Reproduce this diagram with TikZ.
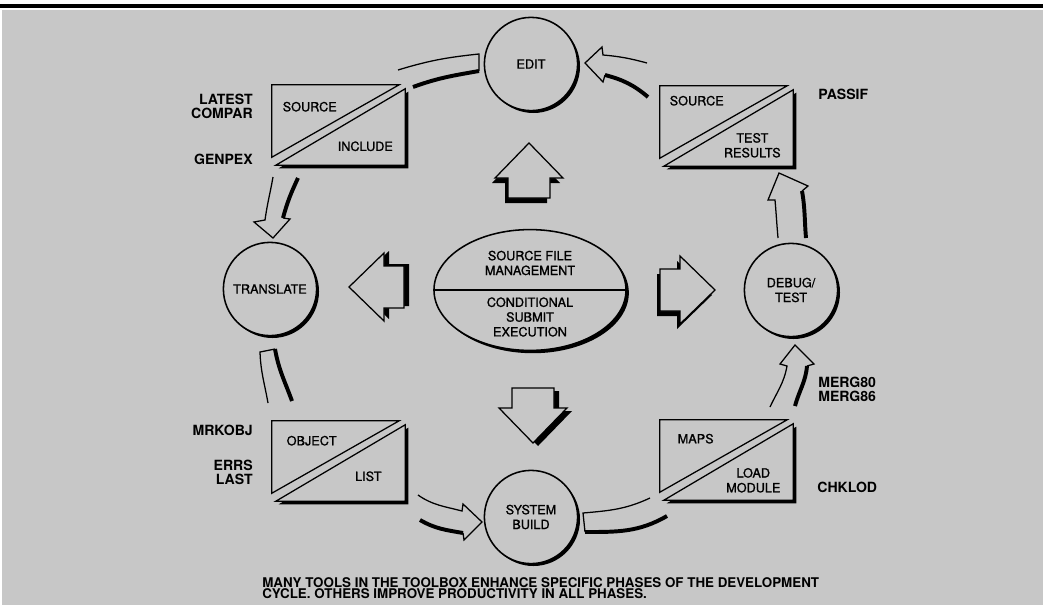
\documentclass[tikz,border=0pt]{standalone}
\usepackage{fontspec}
\setsansfont{TeX Gyre Heros}
\newfontfamily\medsans[FakeBold=1.2]{TeX Gyre Heros}
\usetikzlibrary{calc,shadows,shapes.geometric}
\definecolor{paper}{gray}{0.78}
% split file box drawn on the anchors of an empty node
\newcommand\splitbox[1]{%
  \fill[black] ($(#1.south west)+(7,3)$) -- ($(#1.north east)+(3,7)$) -- ($(#1.south east)+(3,3)$) -- cycle;
  \draw[rim, fill=paper] ($(#1.south west)+(4,0)$) -- ($(#1.north east)+(0,4)$) -- (#1.south east) -- cycle;
  \draw[rim, fill=paper] (#1.north west) -- ($(#1.north east)+(-6,0)$) -- ($(#1.south west)+(0,-8)$) -- cycle;}
% block arrow with its shadow: tip, angle, shadow shift
\newcommand\fatarrow[3]{%
  \pic[rotate=#2] at ($(#1)+(#3)$) {fat shade};
  \pic[rotate=#2] at (#1) {fat arrow};}
\begin{document}
\begin{tikzpicture}[x=0.025cm, y=-0.025cm,
rim/.style={line width=0.9pt, line join=miter},
heavy/.style={line width=2.8pt},
phase/.style={circle, draw, line width=1.1pt, fill=paper, minimum size=2.33cm, inner sep=0pt,
  align=center, font=\medsans\fontsize{9}{10.5}\selectfont,
  drop shadow={shadow xshift=1.7pt, shadow yshift=-1.7pt, fill=black, opacity=1}},
hub/.style={ellipse, draw, line width=1.1pt, fill=paper, minimum width=4.8cm, minimum height=3.02cm,
  inner sep=0pt, drop shadow={shadow xshift=2pt, shadow yshift=-2pt, fill=black, opacity=1}},
filebox/.style={rectangle, minimum width=3.325cm, minimum height=2cm, inner sep=0pt},
boxtext/.style={align=center, inner sep=0pt, font=\medsans\fontsize{9}{10.5}\selectfont},
tool/.style={inner sep=0pt, font=\sffamily\bfseries\fontsize{10}{10}\selectfont},
caption/.style={align=left, inner sep=0pt, font=\sffamily\bfseries\fontsize{9.5}{8}\selectfont},
fat arrow/.pic={\draw[rim, fill=paper] (0,0) -- (-35,34) -- (-35,21) -- (-55,21) -- (-55,-21) -- (-35,-21) -- (-35,-34) -- cycle;},
fat shade/.pic={\fill[black] (0,0) -- (-35,34) -- (-35,21) -- (-55,21) -- (-55,-21) -- (-35,-21) -- (-35,-34) -- cycle;}
]
\useasboundingbox (0,0) rectangle (1043,605);
\fill[white] (0,0) rectangle (1043,605);
\fill[black] (0,4) rectangle (1043,7.5);
\fill[paper] (2,10) rectangle (1043,605);

% phases of the cycle
\node[phase] (edit) at (531,64) {EDIT};
\node[phase] (translate) at (270,289) {TRANSLATE};
\node[phase] (debug) at (791,290) {DEBUG/\\TEST};
\node[phase] (build) at (531,517) {SYSTEM\\BUILD};

% centre
\node[hub] (hub) at (530,290) {};
\draw[rim] (hub.west) -- (hub.east);
\node[boxtext] (hub-a) at ($(hub.center)+(0,-27)$) {SOURCE FILE\\MANAGEMENT};
\node[boxtext] (hub-b) at ($(hub.center)+(0,27)$) {CONDITIONAL\\SUBMIT\\EXECUTION};

\coordinate (up-tip) at (529,143);
\coordinate (left-tip) at (349,287);
\coordinate (right-tip) at (715,290);
\coordinate (down-tip) at (533,443);
\fatarrow{up-tip}{90}{-3,5}
\fatarrow{left-tip}{180}{5,-2}
\fatarrow{right-tip}{0}{-3,5}
\fatarrow{down-tip}{-90}{5,3}

% files
\node[filebox] (src) at (338.5,125) {};
\splitbox{src}
\node[boxtext] (src-a) at ($(src.north west)+(38,22)$) {SOURCE};
\node[boxtext] (src-b) at ($(src.south east)+(-40,-19)$) {INCLUDE};
\node[filebox] (res) at (726.5,126) {};
\splitbox{res}
\node[boxtext] (res-a) at ($(res.north west)+(37,15)$) {SOURCE};
\node[boxtext] (res-b) at ($(res.south east)+(-41,-21)$) {TEST\\RESULTS};
\node[filebox] (obj) at (338.5,461) {};
\splitbox{obj}
\node[boxtext] (obj-a) at ($(obj.north west)+(40,20)$) {OBJECT};
\node[boxtext] (obj-b) at ($(obj.south east)+(-37,-25)$) {LIST};
\node[filebox] (maps) at (726.5,460) {};
\splitbox{maps}
\node[boxtext] (maps-a) at ($(maps.north west)+(36,19)$) {MAPS};
\node[boxtext] (maps-b) at ($(maps.south east)+(-40,-20)$) {LOAD\\MODULE};

% tools
\node[tool, anchor=east, align=right] (latest) at (253,106) {LATEST\\COMPAR};
\node[tool, anchor=east] (genpex) at (253,159) {GENPEX};
\node[tool, anchor=east] (mrkobj) at (253,430) {MRKOBJ};
\node[tool, anchor=east, align=right] (errs) at (253,472) {ERRS\\LAST};
\node[tool, anchor=west] (passif) at (818,94) {PASSIF};
\node[tool, anchor=west, align=left] (merg) at (818,389) {MERG80\\MERG86};
\node[tool, anchor=west] (chklod) at (817,487) {CHKLOD};

% edit -> source/include
\coordinate (a1) at (479,54); \coordinate (a2) at (479,71);
\coordinate (a3) at (398,70); \coordinate (a4) at (413,87);
\draw[rim] (a2) -- (a1) to[out=186,in=17] (a3);
\draw[heavy] (a2) to[out=190,in=20] (a4);
% source/include -> translate
\coordinate (b1) at (273,177); \coordinate (b2) at (298,178);
\coordinate (b3) at (265,220); \coordinate (b4) at (283,218);
\draw[rim] (b1) to[out=-100,in=82] (b3) -- (254,222) -- (273,238) -- (290,219) -- (b4);
\draw[heavy] (b2) to[out=-115,in=75] (b4);
% translate -> object/list
\coordinate (c1) at (260,352); \coordinate (c2) at (275,349);
\coordinate (c3) at (268,403); \coordinate (c4) at (292,401);
\draw[rim] (c2) -- (c1) to[out=-88,in=100] (c3);
\draw[heavy] (c2) to[out=-80,in=110] (c4);
% object/list -> system build
\coordinate (d1) at (418,495); \coordinate (d2) at (420,520);
\coordinate (d3) at (462,511); \coordinate (d4) at (463,533);
\draw[rim] (d1) to[out=-35,in=165] (d3) -- (463,504) -- (482,522) -- (464,540) -- (d4);
\draw[heavy] (d2) to[out=-30,in=170] (d4);
% system build -> maps/load module
\coordinate (e1) at (583,513); \coordinate (e2) at (585,532);
\coordinate (e3) at (650,498); \coordinate (e4) at (667,516);
\draw[rim] (e2) -- (e1) to[out=5,in=-155] (e3);
\draw[heavy] (e2) to[out=0,in=-150] (e4);
% maps/load module -> debug
\coordinate (f1) at (770,407); \coordinate (f2) at (795,406);
\coordinate (f3) at (787,366); \coordinate (f4) at (807,366);
\draw[rim] (f1) to[out=65,in=-100] (f3) -- (780,364) -- (795,345) -- (814,364) -- (f4);
\draw[heavy] (f2) to[out=75,in=-95] (f4);
% debug -> source/test results
\coordinate (g1) at (778,238); \coordinate (g2) at (806,238);
\coordinate (g3) at (775,200); \coordinate (g4) at (802,191);
\draw[rim] (g1) to[out=95,in=-85] (g3) -- (768,200) -- (779,173) -- (808,186) -- (g4);
\draw[heavy] (g2) to[out=95,in=-80] (g4);
% source/test results -> edit
\coordinate (h1) at (647,63); \coordinate (h2) at (648,97);
\coordinate (h3) at (603,55); \coordinate (h4) at (605,75);
\draw[rim] (h1) to[out=165,in=-5] (h3) -- (602,47) -- (585,63) -- (603,82) -- (h4);
\draw[heavy] (h2) to[out=140,in=-15] (h4);

\node[caption, anchor=north west] (note) at (262,577) {MANY TOOLS IN THE TOOLBOX ENHANCE SPECIFIC PHASES OF THE DEVELOPMENT\\CYCLE. OTHERS IMPROVE PRODUCTIVITY IN ALL PHASES.};
\end{tikzpicture}
\end{document}
